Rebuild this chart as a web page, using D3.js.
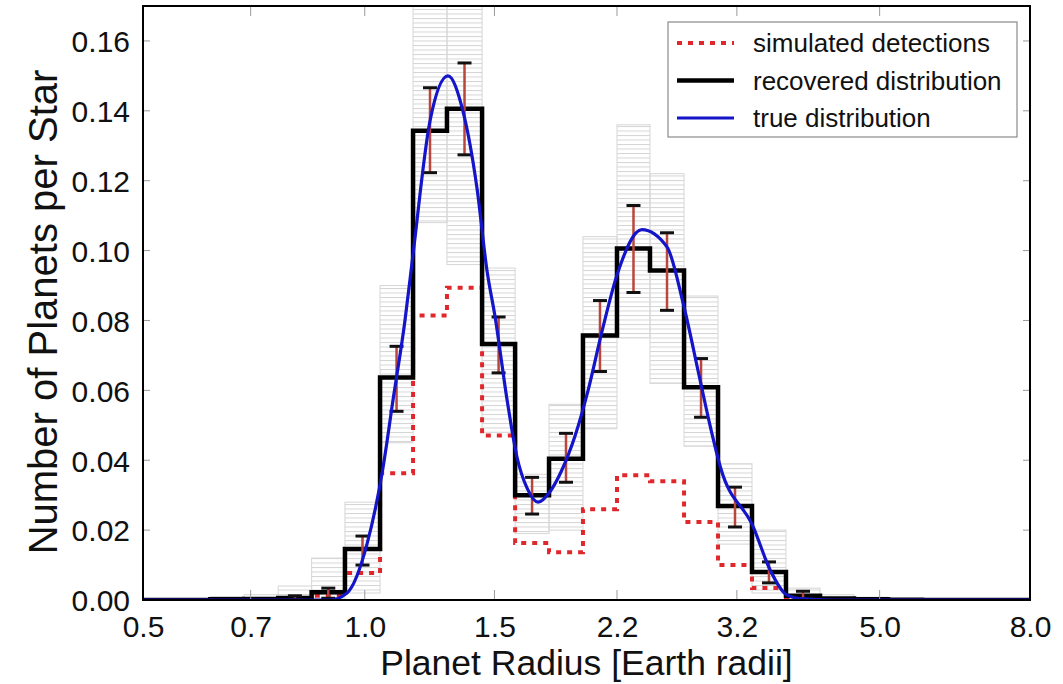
<!DOCTYPE html>
<html>
<head>
<meta charset="utf-8">
<style>
  body { margin: 0; background: #fff; }
  svg text { font-family: "Liberation Sans", Arial, Helvetica, sans-serif; fill: #111; }
  .axis .tick text { font-size: 30px; }
  .axis-title { font-size: 35.5px; }
  .legend text { font-size: 26px; }
</style>
<script src="https://cdnjs.cloudflare.com/ajax/libs/d3/7.8.5/d3.min.js"></script>
</head>
<body>
<svg width="1063" height="684"></svg>
<script>
// bin edges in Earth radii (log-spaced)
var edges = [0.5, 0.555, 0.617, 0.686, 0.763, 0.847, 0.940, 1.049, 1.163, 1.293, 1.443,
  1.600, 1.779, 1.978, 2.200, 2.439, 2.713, 3.017, 3.355, 3.731, 4.150, 4.615, 5.133,
  5.707, 6.347, 7.059, 8.0];

var recovered = [0, 0, 0.0002, 0.0003, 0.0006, 0.0022, 0.0146, 0.0637, 0.1343, 0.1406,
  0.0733, 0.0300, 0.0404, 0.0757, 0.1006, 0.0943, 0.0609, 0.0269, 0.0080, 0.0012,
  0.0004, 0.0002, 0.0001, 0, 0, 0];

var simulated = [0, 0, 0, 0, 0.0002, 0.0012, 0.0077, 0.0363, 0.0814, 0.0894, 0.0471,
  0.0163, 0.0137, 0.0260, 0.0357, 0.0340, 0.0223, 0.0100, 0.0034, 0.0003, 0, 0, 0, 0, 0, 0];

var errLow = [null, null, null, null, 0.0001, 0.0005, 0.0100, 0.0540, 0.1223, 0.1274, 0.0650,
  0.0246, 0.0337, 0.0654, 0.0880, 0.0829, 0.0523, 0.0209, 0.0049, 0.0003, null, null,
  null, null, null, null];
var errHigh = [null, null, null, null, 0.0012, 0.0034, 0.0183, 0.0726, 0.1466, 0.1537, 0.0810,
  0.0351, 0.0477, 0.0857, 0.1129, 0.1051, 0.0691, 0.0323, 0.0109, 0.0025, null, null,
  null, null, null, null];

// spread of the posterior samples (grey lines) per bin
var sampleLow = [0, 0, 0, 0, 0, 0, 0.002, 0.045, 0.108, 0.096, 0.048, 0.019, 0.020, 0.049,
  0.075, 0.062, 0.044, 0.016, 0.002, 0, 0, 0, 0, 0, 0, 0];
var sampleHigh = [0, 0, 0.0010, 0.0015, 0.004, 0.012, 0.028, 0.090, 0.170, 0.170, 0.095,
  0.036, 0.056, 0.104, 0.136, 0.122, 0.087, 0.039, 0.020, 0.0034, 0.0015, 0.0008, 0, 0, 0, 0];

// true distribution
var trueR = [0.5, 0.80, 0.897, 0.946, 1.007, 1.059, 1.092, 1.134, 1.163, 1.226, 1.297, 1.359,
  1.420, 1.466, 1.503, 1.561, 1.609, 1.661, 1.719, 1.784, 1.850, 1.930, 2.010, 2.100,
  2.200, 2.378, 2.573, 2.705, 2.852, 2.935, 3.040, 3.367, 3.551, 3.744, 3.936, 4.3, 8.0];
var trueVal = [0, 0, 0, 0.002, 0.016, 0.038, 0.057, 0.080, 0.099, 0.137, 0.150, 0.140,
  0.118, 0.094, 0.081, 0.057, 0.041, 0.032, 0.028, 0.031, 0.037, 0.047, 0.060, 0.077,
  0.093, 0.106, 0.101, 0.085, 0.063, 0.051, 0.038, 0.021, 0.0086, 0.0014, 0.0003, 0, 0];

var xTicks = [0.5, 0.7, 1.0, 1.5, 2.2, 3.2, 5.0, 8.0];
var yTicks = [0, 0.02, 0.04, 0.06, 0.08, 0.10, 0.12, 0.14, 0.16];

var svg = d3.select("svg");
var mLeft = 143, mTop = 6, mRight = 1030, mBottom = 600;

var x = d3.scaleLog().domain([0.5, 8.0]).range([mLeft, mRight]);
var y = d3.scaleLinear().domain([0, 0.17]).range([mBottom, mTop]);

var defs = svg.append("defs");
defs.append("clipPath").attr("id", "plot")
  .append("rect").attr("x", mLeft).attr("y", mTop).attr("width", mRight - mLeft).attr("height", mBottom - mTop);
var pat = defs.append("pattern").attr("id", "samples")
  .attr("width", 8).attr("height", 4.5).attr("patternUnits", "userSpaceOnUse");
pat.append("line").attr("x1", 0).attr("x2", 8).attr("y1", 0.5).attr("y2", 0.5)
  .attr("stroke", "#d4d4d4").attr("stroke-width", 1);

var g = svg.append("g").attr("clip-path", "url(#plot)");

var bins = d3.range(recovered.length);

// grey posterior samples
g.selectAll(".samp").data(bins.filter(function (i) { return sampleHigh[i] > sampleLow[i]; }))
  .enter().append("rect")
  .attr("x", function (i) { return x(edges[i]); })
  .attr("width", function (i) { return x(edges[i + 1]) - x(edges[i]); })
  .attr("y", function (i) { return y(sampleHigh[i]); })
  .attr("height", function (i) { return y(sampleLow[i]) - y(sampleHigh[i]); })
  .attr("fill", "url(#samples)")
  .attr("stroke", "#d6d6d6").attr("stroke-width", 1);

function stepPoints(vals) {
  var pts = vals.map(function (v, i) { return [edges[i], v]; });
  pts.push([edges[edges.length - 1], vals[vals.length - 1]]);
  return pts;
}
var step = d3.line()
  .x(function (d) { return x(d[0]); })
  .y(function (d) { return y(d[1]); })
  .curve(d3.curveStepAfter);

// simulated detections
g.append("path").attr("d", step(stepPoints(simulated)))
  .attr("fill", "none").attr("stroke", "#e0282c").attr("stroke-width", 4)
  .attr("stroke-dasharray", "5,6");

// recovered distribution
g.append("path").attr("d", step(stepPoints(recovered)))
  .attr("fill", "none").attr("stroke", "#000").attr("stroke-width", 4.5)
  .attr("stroke-linejoin", "miter");

// error bars
var eb = g.selectAll(".err").data(bins.filter(function (i) { return errLow[i] !== null; }))
  .enter().append("g");
function mid(i) { return x(Math.sqrt(edges[i] * edges[i + 1])); }
eb.append("line")
  .attr("x1", mid).attr("x2", mid)
  .attr("y1", function (i) { return y(errLow[i]); })
  .attr("y2", function (i) { return y(errHigh[i]); })
  .attr("stroke", "#b9463c").attr("stroke-width", 2.5);
[errLow, errHigh].forEach(function (arr) {
  eb.append("line")
    .attr("x1", function (i) { return mid(i) - 7; })
    .attr("x2", function (i) { return mid(i) + 7; })
    .attr("y1", function (i) { return y(arr[i]); })
    .attr("y2", function (i) { return y(arr[i]); })
    .attr("stroke", "#111").attr("stroke-width", 3);
});

// true distribution
var trueLine = d3.line()
  .x(function (d, i) { return x(trueR[i]); })
  .y(function (d) { return y(d); })
  .curve(d3.curveMonotoneX);
g.append("path").attr("d", trueLine(trueVal))
  .attr("fill", "none").attr("stroke", "#1414c8").attr("stroke-width", 3.2);

// axes
var xAxis = svg.append("g").attr("class", "x axis")
  .attr("transform", "translate(0," + mBottom + ")")
  .call(d3.axisBottom(x).tickValues(xTicks).tickFormat(d3.format(".1f")).tickSize(0).tickPadding(16));
xAxis.select(".domain").remove();
xAxis.selectAll("text").attr("dy", "0.71em");
var yAxis = svg.append("g").attr("class", "y axis")
  .attr("transform", "translate(" + mLeft + ",0)")
  .call(d3.axisLeft(y).tickValues(yTicks).tickFormat(d3.format(".2f")).tickSize(0).tickPadding(13));
yAxis.select(".domain").remove();
yAxis.selectAll("text").attr("dy", "0.36em");

// inward tick marks on all four sides
var tk = svg.append("g").attr("stroke", "#9a9a9a").attr("stroke-width", 1);
yTicks.forEach(function (t) {
  tk.append("line").attr("x1", mLeft).attr("x2", mLeft + 7).attr("y1", y(t)).attr("y2", y(t));
  tk.append("line").attr("x1", mRight - 7).attr("x2", mRight).attr("y1", y(t)).attr("y2", y(t));
});
xTicks.forEach(function (t) {
  tk.append("line").attr("x1", x(t)).attr("x2", x(t)).attr("y1", mBottom).attr("y2", mBottom - 10);
  tk.append("line").attr("x1", x(t)).attr("x2", x(t)).attr("y1", mTop).attr("y2", mTop + 10);
});

svg.append("rect").attr("x", mLeft).attr("y", mTop)
  .attr("width", mRight - mLeft).attr("height", mBottom - mTop)
  .attr("fill", "none").attr("stroke", "#000").attr("stroke-width", 2);

svg.append("text").attr("class", "axis-title")
  .attr("x", (mLeft + mRight) / 2).attr("y", 675)
  .attr("text-anchor", "middle").text("Planet Radius [Earth radii]");
svg.append("text").attr("class", "axis-title")
  .attr("transform", "translate(57,312) rotate(-90)")
  .attr("text-anchor", "middle").style("font-size", "40px")
  .text("Number of Planets per Star");

// legend
var legendItems = [
  { label: "simulated detections", color: "#e0282c", width: 4, dash: "5,6" },
  { label: "recovered distribution", color: "#000", width: 4.5, dash: null },
  { label: "true distribution", color: "#1414c8", width: 3.2, dash: null }
];
var lg = svg.append("g").attr("class", "legend");
lg.append("rect").attr("x", 668).attr("y", 22).attr("width", 349).attr("height", 115)
  .attr("fill", "#fff").attr("stroke", "#8a8a8a").attr("stroke-width", 1.2);
legendItems.forEach(function (d, i) {
  var yy = 43 + i * 37.5;
  lg.append("line").attr("x1", 677).attr("x2", 734).attr("y1", yy).attr("y2", yy)
    .attr("stroke", d.color).attr("stroke-width", d.width)
    .attr("stroke-dasharray", d.dash);
  lg.append("text").attr("x", 753).attr("y", yy).attr("dy", "0.35em").text(d.label);
});
</script>
</body>
</html>
